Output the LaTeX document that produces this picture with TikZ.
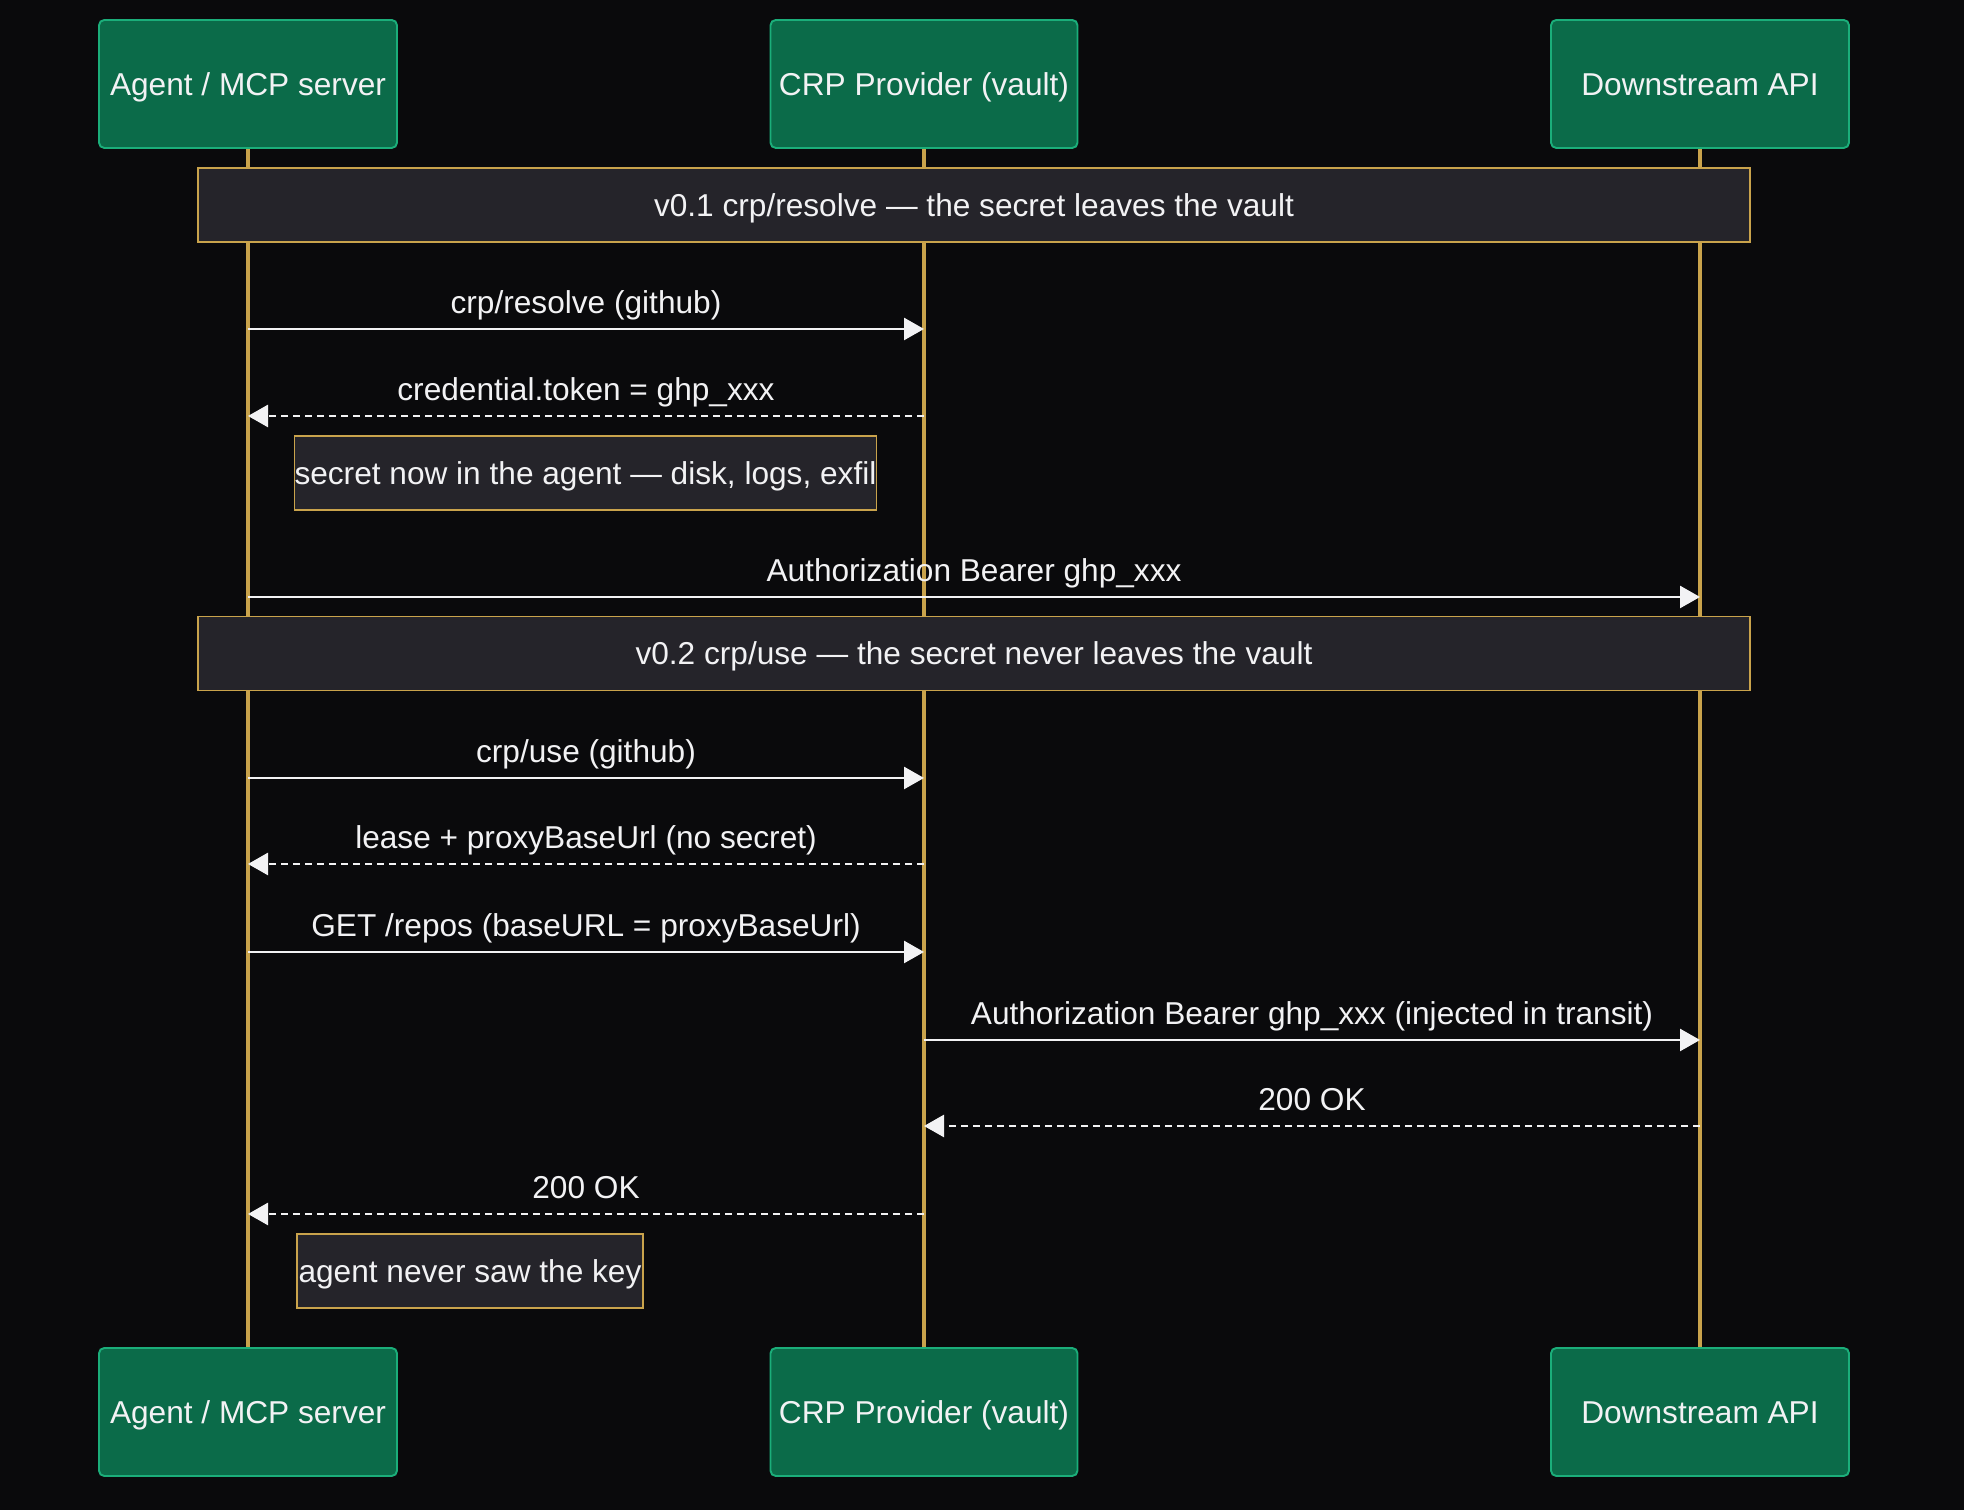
\documentclass[tikz,border=0pt]{standalone}
\usepackage{fontspec}
\setmainfont{Liberation Sans}
\usetikzlibrary{arrows.meta, positioning, calc}
\definecolor{page-bg}{HTML}{0A0A0C}
\definecolor{actor-green}{HTML}{0B6B49}
\definecolor{actor-edge}{HTML}{1BAE7A}
\definecolor{life-gold}{HTML}{C9A34C}
\definecolor{note-grey}{HTML}{25242A}
\definecolor{msg-white}{HTML}{F2F2F4}

\begin{document}
\begin{tikzpicture}[
        actor/.style={rectangle, rounded corners=3pt, draw=actor-edge,
                      line width=1.1pt, fill=actor-green, minimum width=5.96cm,
                      minimum height=2.56cm, text=msg-white, text height=13pt,
                      text depth=0pt, font=\fontsize{18}{22}\selectfont},
        note/.style={rectangle, draw=life-gold, line width=1.1pt,
                     fill=note-grey, minimum height=1.48cm, inner xsep=0pt,
                     text height=13pt, text depth=0pt,
                     text=msg-white, font=\fontsize{18}{22}\selectfont},
        life/.style={life-gold, line width=1.9pt},
        msg/.style={-{Triangle[length=0.4cm, width=0.44cm]}, msg-white,
                    line width=1.5pt},
        reply/.style={msg, dash pattern=on 0.14cm off 0.1cm},
        lbl/.style={midway, anchor=base, yshift=0.31cm, inner sep=0pt,
                    text=msg-white, font=\fontsize{18}{22}\selectfont}]
  \useasboundingbox[fill=page-bg] (0,0) rectangle (39.28,30.2);

  % participants
  \node[actor] (agentT) at (4.96, 28.52) {Agent / MCP server};
  \node[actor, minimum width=6.14cm] (crpT) at (18.48, 28.52) {CRP Provider (vault)};
  \node[actor] (apiT) at (34.0, 28.52) {Downstream API};
  \node[actor] (agentB) at (4.96, 1.96) {Agent / MCP server};
  \node[actor, minimum width=6.14cm] (crpB) at (18.48, 1.96) {CRP Provider (vault)};
  \node[actor] (apiB) at (34.0, 1.96) {Downstream API};

  \draw[life] (agentT.south) -- (agentB.north);
  \draw[life] (crpT.south) -- (crpB.north);
  \draw[life] (apiT.south) -- (apiB.north);

  % message rows
  \coordinate (m1) at (0, 23.62);
  \coordinate (m2) at (0, 21.88);
  \coordinate (m3) at (0, 18.26);
  \coordinate (m4) at (0, 14.64);
  \coordinate (m5) at (0, 12.92);
  \coordinate (m6) at (0, 11.16);
  \coordinate (m7) at (0, 9.40);
  \coordinate (m8) at (0, 7.68);
  \coordinate (m9) at (0, 5.92);

  % v0.1
  \node[note, minimum width=31.04cm] (n1) at (19.48, 26.10)
        {v0.1 crp/resolve — the secret leaves the vault};
  \draw[msg] (agentT |- m1) -- node[lbl] {crp/resolve (github)} (crpT |- m1);
  \draw[reply] (crpT |- m2) -- node[lbl] {credential.token = ghp\_xxx} (agentT |- m2);
  \node[note, minimum width=11.54cm] (n2) at (11.71, 20.74)
        {secret now in the agent — disk, logs, exfil};
  \draw[msg] (agentT |- m3) -- node[lbl] {Authorization Bearer ghp\_xxx} (apiT |- m3);

  % v0.2
  \node[note, minimum width=31.04cm] (n3) at (19.48, 17.13)
        {v0.2 crp/use — the secret never leaves the vault};
  \draw[msg] (agentT |- m4) -- node[lbl] {crp/use (github)} (crpT |- m4);
  \draw[reply] (crpT |- m5) -- node[lbl] {lease + proxyBaseUrl (no secret)} (agentT |- m5);
  \draw[msg] (agentT |- m6) -- node[lbl] {GET /repos (baseURL = proxyBaseUrl)} (crpT |- m6);
  \draw[msg] (crpT |- m7) -- node[lbl] {Authorization Bearer ghp\_xxx (injected in transit)} (apiT |- m7);
  \draw[reply] (apiT |- m8) -- node[lbl] {200 OK} (crpT |- m8);
  \draw[reply] (crpT |- m9) -- node[lbl] {200 OK} (agentT |- m9);
  \node[note, minimum width=6.92cm] (n4) at (9.40, 4.78) {agent never saw the key};
\end{tikzpicture}
\end{document}
